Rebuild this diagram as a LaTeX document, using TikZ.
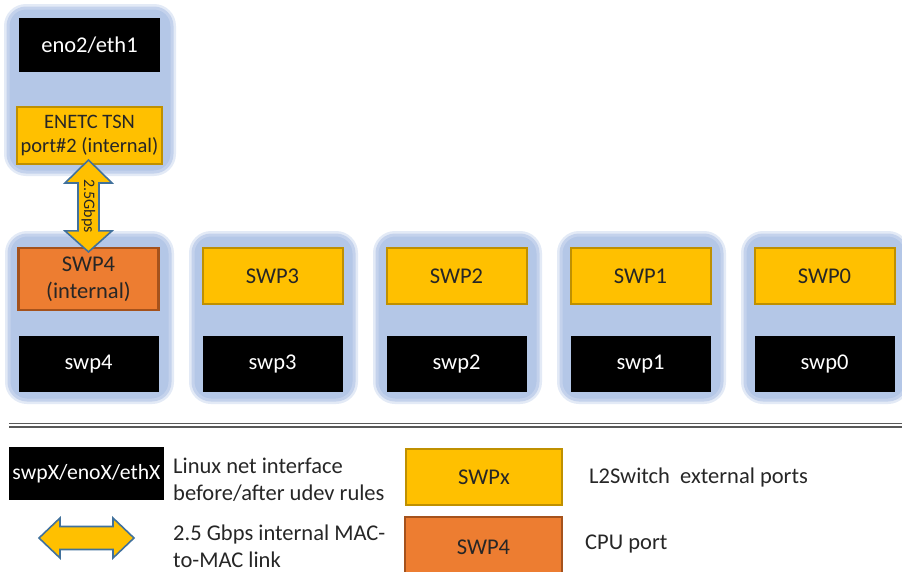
\documentclass[tikz,border=0pt]{standalone}
\usepackage{fontspec}
\setmainfont{Carlito}
\usetikzlibrary{calc}
\definecolor{panel}{HTML}{B4C7E7}
\definecolor{panelrim}{HTML}{C4D2EC}
\definecolor{panelhalo}{HTML}{E3EAF6}
\definecolor{gold}{HTML}{FFC000}
\definecolor{golddark}{HTML}{BF9000}
\definecolor{cpuorange}{HTML}{ED7D31}
\definecolor{cpudark}{HTML}{A5521C}
\definecolor{arrowrim}{HTML}{41719C}
\definecolor{rulegray}{HTML}{595959}
\definecolor{ink}{HTML}{262626}

\begin{document}
\begin{tikzpicture}[x=1pt,y=-1pt,
  bigfont/.style={font=\fontsize{22.5pt}{27pt}\selectfont},
  panelbox/.style={rectangle, rounded corners=18pt, fill=panel, draw=panelrim,
    line width=3pt, preaction={draw=panelhalo, line width=8pt},
    minimum width=161pt, minimum height=165pt, inner sep=0pt},
  netif/.style={rectangle, fill=black, text=white, bigfont, inner sep=0pt,
    minimum width=140pt, minimum height=56pt},
  extport/.style={rectangle, fill=gold, draw=golddark, line width=2pt, text=ink,
    bigfont, inner sep=0pt, minimum width=140pt, minimum height=56pt, align=center},
  cpuport/.style={rectangle, fill=cpuorange, draw=cpudark, line width=2.2pt, text=ink,
    bigfont, inner sep=0pt, minimum width=140pt, minimum height=62pt, align=center},
  linkarrow/.style={fill=gold, draw=arrowrim, line width=1.6pt, line join=miter},
  legendtext/.style={bigfont, text=ink, inner sep=0pt, align=left},
  doublerule/.style={draw=rulegray, line width=1.4pt}
]
\useasboundingbox (0,0) rectangle (902,571);
\clip (0,0) rectangle (902,571);

% host side: ENETC port with its net interface
\node[panelbox, minimum width=164pt, minimum height=164pt] (host) at (90,90) {};
\node[netif, minimum width=141pt, minimum height=54pt] (eno) at (89.5,45) {eno2/eth1};
\node[extport, minimum width=145pt, minimum height=57pt,
  font=\fontsize{20.5pt}{24pt}\selectfont] (enetc) at (89.5,135.5) {ENETC TSN\\port\#2 (internal)};

% switch ports
\foreach \i/\low in {0/4, 1/3, 2/2, 3/1, 4/0} {
  \node[panelbox] (panel\i) at (89.5+184*\i,317.5) {};
  \node[netif] (swpif\low) at (88.5+184*\i,364) {swp\low};
}
\node[cpuport] (swp4) at (88.5,279) {SWP4\\(internal)};
\foreach \i/\n in {1/3, 2/2, 3/1, 4/0} {
  \node[extport] (swp\n) at (88.5+184*\i,276) {SWP\n};
}

% internal MAC-to-MAC link
\coordinate (lt) at ($(enetc.south)+(-1,-5)$);
\coordinate (lb) at ($(swp4.north)+(0,5)$);
\draw[linkarrow] (lt) -- ($(lt)+(23.5,23)$) -- ($(lt)+(10.5,23)$)
  -- ($(lb)+(10.5,-21)$) -- ($(lb)+(23.5,-21)$) -- (lb)
  -- ($(lb)+(-23.5,-21)$) -- ($(lb)+(-10.5,-21)$)
  -- ($(lt)+(-10.5,23)$) -- ($(lt)+(-23.5,23)$) -- cycle;
\node[rotate=-90, text=ink, font=\fontsize{16pt}{18pt}\selectfont, inner sep=0pt]
  (rate) at ($(lt)!0.5!(lb)$) {2.5Gbps};

% separator
\draw[doublerule] (9,423.3) -- (902,423.3);
\draw[doublerule] (9,426.9) -- (902,426.9);

% legend
\node[netif, minimum width=155pt, minimum height=53pt,
  font=\fontsize{21.7pt}{26pt}\selectfont] (keyif) at (86.5,473.5) {swpX/enoX/ethX};
\node[legendtext, anchor=base west] (keyiftext) at (173,500)
  {Linux net interface\\before/after udev rules};

\coordinate (la) at (39,538);
\coordinate (lr) at (134,538);
\draw[linkarrow] (la) -- ($(la)+(21,-20)$) -- ($(la)+(21,-11.5)$)
  -- ($(lr)+(-21,-11.5)$) -- ($(lr)+(-21,-20)$) -- (lr)
  -- ($(lr)+(-21,20)$) -- ($(lr)+(-21,11.5)$)
  -- ($(la)+(21,11.5)$) -- ($(la)+(21,20)$) -- cycle;
\node[legendtext, anchor=base west] (keylinktext) at (173,567)
  {2.5 Gbps internal MAC-\\to-MAC link};

\node[extport, minimum width=156pt, minimum height=56pt] (keyext) at (484,477) {SWPx};
\node[legendtext, anchor=base west] (keyexttext) at (589,483) {L2Switch\ \ external ports};

\node[cpuport, minimum width=157pt, minimum height=60pt] (keycpu) at (483.5,547) {SWP4};
\node[legendtext, anchor=base west] (keycputext) at (585,549) {CPU port};
\end{tikzpicture}
\end{document}
